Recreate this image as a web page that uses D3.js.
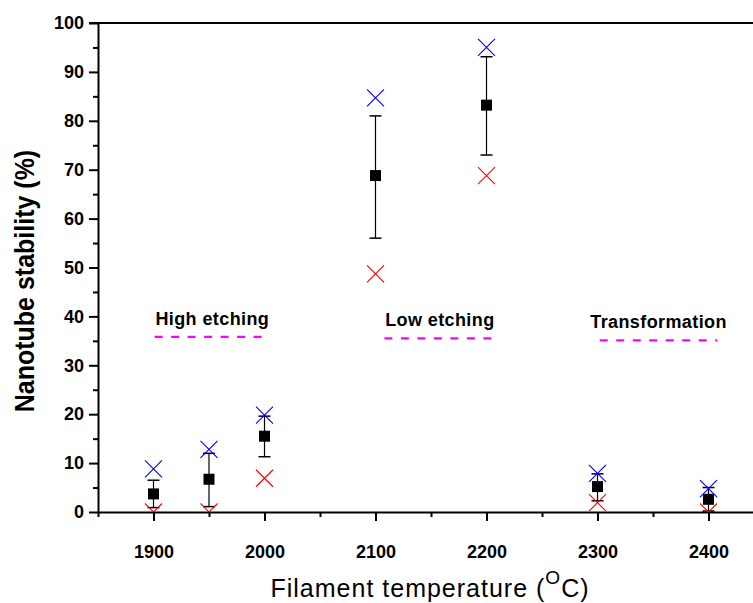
<!DOCTYPE html>
<html><head><meta charset="utf-8">
<script src="https://cdn.jsdelivr.net/npm/d3@7"></script>
<style>body{margin:0;background:#fff}svg{display:block}</style>
</head><body>
<script>
const temps      = [1900, 1950, 2000, 2100, 2200, 2300, 2400];
const meanVals   = [3.7, 6.7, 15.5, 68.8, 83.2, 5.2, 2.6];
const errLow     = [0.9, 1.1, 11.3, 56.0, 73.0, 2.3, 0.2];
const errHigh    = [6.5, 12.0, 19.6, 81.0, 93.1, 7.8, 5.0];
const maxVals    = [8.8, 12.8, 19.8, 84.7, 95.0, 7.9, 4.8];
const minVals    = [0.0, 0.0, 6.9, 48.7, 68.8, 1.9, 0.0];
const yTicks     = [0,10,20,30,40,50,60,70,80,90,100];
const xTicks     = [1900,2000,2100,2200,2300,2400];
const regionLabels = ["High etching","Low etching","Transformation"];
const regionFrom   = [1901, 2108, 2302];
const regionTo     = [2004, 2208, 2408];
const regionLabelX = [1953, 2158, 2355];
const regionY      = [35.8, 35.5, 35.1];

const W=753,H=603;
const FONT="Arial, 'Liberation Sans', sans-serif";
const svg=d3.select("body").append("svg").attr("width",W).attr("height",H);
const x=d3.scaleLinear().domain([1850,2450]).range([98,764]);
const y=d3.scaleLinear().domain([0,100]).range([512,23]);

svg.append("defs").append("clipPath").attr("id","clip")
  .append("rect").attr("x",98).attr("y",0).attr("width",700).attr("height",512);

// top frame
svg.append("line").attr("x1",89).attr("x2",770).attr("y1",y(100)).attr("y2",y(100))
  .attr("stroke","#000").attr("stroke-width",2);

// y axis
svg.append("g").attr("transform","translate(98,0)")
  .call(d3.axisLeft(y).tickValues(yTicks).tickSize(9).tickSizeOuter(0).tickPadding(5));
svg.append("g").attr("transform","translate(98,0)")
  .call(d3.axisLeft(y).tickValues(d3.range(5,100,10)).tickSize(5).tickFormat("").tickSizeOuter(0))
  .select(".domain").remove();
// x axis
svg.append("g").attr("transform","translate(0,512)")
  .call(d3.axisBottom(x).tickValues(xTicks).tickSize(9).tickSizeOuter(0).tickPadding(24).tickFormat(d3.format("d")));
svg.append("g").attr("transform","translate(0,512)")
  .call(d3.axisBottom(x).tickValues(d3.range(1850,2451,100)).tickSize(5).tickFormat("").tickSizeOuter(0))
  .select(".domain").remove();
svg.selectAll(".domain").attr("stroke-width",2);
svg.selectAll(".tick line").attr("stroke-width",2);
svg.selectAll(".tick text").attr("font-family",FONT)
  .attr("font-weight","bold").attr("font-size",18).attr("fill","#000");

// axis titles
svg.append("text").attr("transform","translate(34,281) rotate(-90) scale(1,1.1)").attr("text-anchor","middle")
  .attr("font-family",FONT).attr("font-weight","bold").attr("font-size",25)
  .text("Nanotube stability (%)");
const xt=svg.append("text").attr("x",430).attr("y",597).attr("text-anchor","middle")
  .attr("font-family",FONT).attr("font-size",25).attr("letter-spacing",1);
xt.append("tspan").text("Filament temperature (");
xt.append("tspan").attr("dy",-13).attr("font-size",19).text("O");
xt.append("tspan").attr("dy",13).text("C)");

// region annotations
regionLabels.forEach((t,i)=>{
  svg.append("text").attr("x",x(regionLabelX[i])).attr("y",y(regionY[i])-12).attr("text-anchor","middle")
    .attr("font-family",FONT).attr("font-weight","bold").attr("font-size",18).attr("letter-spacing",0.4)
    .text(t);
  svg.append("line").attr("x1",x(regionFrom[i])).attr("x2",x(regionTo[i]))
    .attr("y1",y(regionY[i])).attr("y2",y(regionY[i]))
    .attr("stroke","#ff00ff").attr("stroke-width",2.2).attr("stroke-dasharray","8,8.5");
});

const plot=svg.append("g").attr("clip-path","url(#clip)");
const data=temps.map((t,i)=>({t,m:meanVals[i],lo:errLow[i],hi:errHigh[i],mx:maxVals[i],mn:minVals[i]}));
// error bars
data.forEach(d=>{
  const cx=x(d.t);
  plot.append("line").attr("x1",cx).attr("x2",cx).attr("y1",y(d.lo)).attr("y2",y(d.hi)).attr("stroke","#000").attr("stroke-width",1.2);
  [d.lo,d.hi].forEach(v=>plot.append("line").attr("x1",cx-6).attr("x2",cx+6).attr("y1",y(v)).attr("y2",y(v)).attr("stroke","#000").attr("stroke-width",1.5));
});
function cross(g,cx,cy,col){
  const s=8.5;
  g.append("path").attr("d",`M${cx-s},${cy-s}L${cx+s},${cy+s}M${cx-s},${cy+s}L${cx+s},${cy-s}`)
    .attr("stroke",col).attr("stroke-width",1.1).attr("fill","none");
}
data.forEach(d=>{
  plot.append("rect").attr("x",x(d.t)-5.5).attr("y",y(d.m)-5.5).attr("width",11).attr("height",11).attr("fill","#000");
  cross(plot,x(d.t),y(d.mx),"#0000ff");
  cross(plot,x(d.t),y(d.mn),"#ff0000");
});
</script>
</body></html>
